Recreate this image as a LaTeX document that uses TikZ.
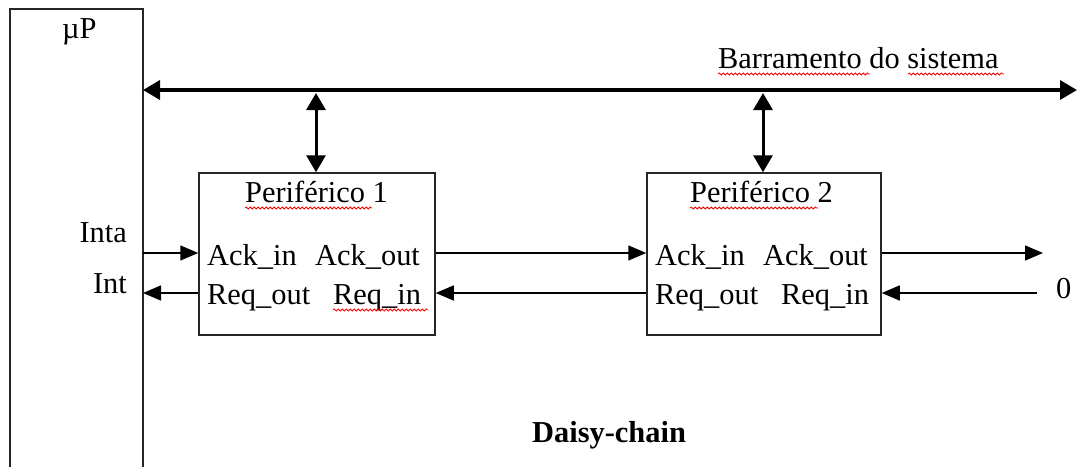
\documentclass[tikz,border=0pt]{standalone}
\usepackage{fontspec}
\setmainfont{Liberation Serif}
\usetikzlibrary{arrows.meta,decorations.pathmorphing}
\begin{document}
\begin{tikzpicture}[x=1pt,y=-1pt,
  font=\fontsize{30.4}{36}\selectfont,
  box/.style={draw=black!85,line width=1.5pt,inner sep=0pt},
  lbl/.style={inner sep=0pt,anchor=base west},
  thin/.style={line width=1.5pt,-{Triangle[length=18pt,width=15pt]}},
  bus/.style={line width=3.5pt,{Triangle[length=17pt,width=19pt]}-{Triangle[length=17pt,width=19pt]}},
  spell/.style={red,line width=0.8pt,decorate,decoration={snake,amplitude=1pt,segment length=4pt}}]
\useasboundingbox (0,0) rectangle (1078,466);
\clip (0,0) rectangle (1078,466);
% microprocessor
\node[box,minimum width=133pt,minimum height=491pt] (up) at (76.5,254.5) {};
\node[lbl] (upl) at (62,38) {µP};
% peripherals
\node[box,minimum width=236pt,minimum height=162pt] (p1) at (317,254) {};
\node[box,minimum width=234pt,minimum height=162pt] (p2) at (764,254) {};
\node[lbl] (p1t) at (245,202) {Periférico 1};
\node[lbl] (p2t) at (690,202) {Periférico 2};
\node[lbl] (p1ai) at (207,265) {Ack\_in};
\node[lbl] (p1ao) at (315,265) {Ack\_out};
\node[lbl] (p1ro) at (207,304) {Req\_out};
\node[lbl] (p1ri) at (333,304) {Req\_in};
\node[lbl] (p2ai) at (655,265) {Ack\_in};
\node[lbl] (p2ao) at (763,265) {Ack\_out};
\node[lbl] (p2ro) at (655,304) {Req\_out};
\node[lbl] (p2ri) at (781,304) {Req\_in};
% side labels
\node[inner sep=0pt,anchor=base east] (inta) at (127,242) {Inta};
\node[inner sep=0pt,anchor=base east] (int) at (127,293) {Int};
\node[lbl] (zero) at (1056,298) {0};
\node[lbl] (bus) at (718,68) {Barramento do sistema};
\node[lbl,font=\fontsize{30.4}{36}\selectfont\bfseries] (dc) at (532,442) {Daisy-chain};
% coordinates
\coordinate (busL) at (143,90);
\coordinate (busR) at (1077,90);
\coordinate (b1) at (316,93);
\coordinate (b2) at (763,93);
\coordinate (ackA) at (143,253);
\coordinate (reqA) at (143,293);
\coordinate (ackEnd) at (1043,253);
\coordinate (reqStart) at (1037,293);
% bus
\draw[bus] (busL) -- (busR);
\draw[bus,line width=3pt] (b1) -- (p1.north -| b1);
\draw[bus,line width=3pt] (b2) -- (p2.north -| b2);
% chain signals
\draw[thin] (ackA) -- (ackA -| p1.west);
\draw[thin] (reqA -| p1.west) -- (reqA);
\draw[thin] (ackA -| p1.east) -- (ackA -| p2.west);
\draw[thin] (reqA -| p2.west) -- (reqA -| p1.east);
\draw[thin] (ackA -| p2.east) -- (ackEnd);
\draw[thin] (reqStart) -- (reqA -| p2.east);
% spell-check marks
\draw[spell] (245,208) -- (372,208);
\draw[spell] (690,208) -- (818,208);
\draw[spell] (333,310) -- (428,310);
\draw[spell] (718,74) -- (870,74);
\draw[spell] (908,74) -- (1004,74);
\end{tikzpicture}
\end{document}
